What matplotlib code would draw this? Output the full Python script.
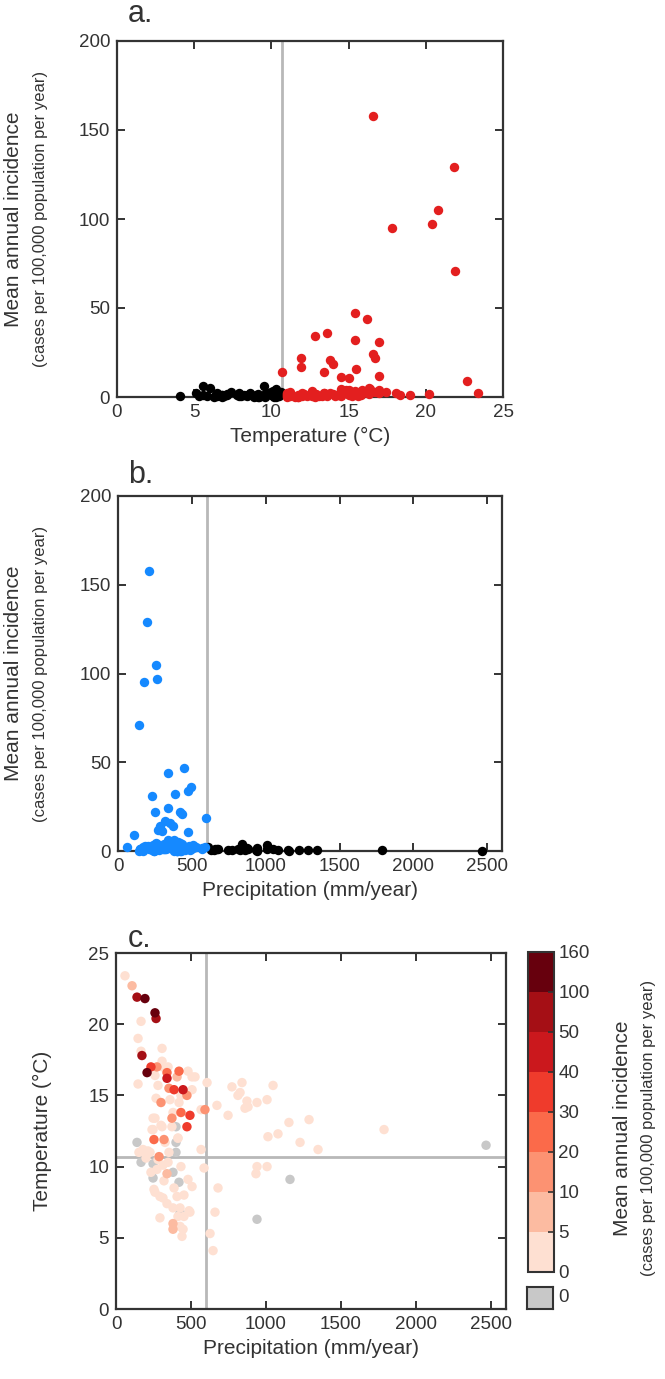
import numpy as np
import matplotlib
matplotlib.use("Agg")
import matplotlib.pyplot as plt
from matplotlib.colors import ListedColormap, BoundaryNorm
import matplotlib.colorbar as mcolorbar

plt.rcParams['font.family'] = ['Liberation Sans', 'DejaVu Sans']

# ---------------- data: (precipitation mm/yr, temperature C, incidence) ----------------
precip = [
    140, 193, 260, 267, 173, 207, 447, 340, 473, 493, 387, 233, 340, 420, 253, 433, 593, 320,
    353, 373, 287, 273, 473, 107, 300, 340, 380,
    60, 167, 147, 167, 307, 307, 313, 347, 260, 480, 507, 527, 407, 147, 280, 507, 607, 433,
    360, 420, 380, 567, 673, 747, 260, 307, 247, 413, 773, 840, 813, 827, 873, 860, 880, 940,
    1007, 1047, 1153, 1287, 1787, 1013, 1080, 1227, 1347, 940, 933, 1007, 567, 587, 680, 660,
    627, 647, 433, 480, 507, 153, 193, 227, 353, 313, 273, 347, 260, 293, 387, 407, 340, 380,
    427, 493, 413, 453, 293, 427, 447, 440, 253, 313, 487, 247, 300, 240, 373, 413, 180, 213,
    327, 200, 280, 233, 453, 380, 320, 267,
    400, 140, 400, 2467, 1160, 940, 420, 380, 167, 247, 247, 427, 400,
]
temp = [
    21.9, 21.8, 20.8, 20.4, 17.8, 16.6, 15.4, 16.2, 12.8, 13.6, 15.4, 17.0, 16.6, 16.7, 11.9, 13.8, 14.0, 11.9,
    15.5, 13.4, 10.7, 17.0, 15.0, 22.7, 14.5, 9.5, 5.6,
    23.4, 20.2, 19.0, 18.1, 18.3, 17.4, 17.0, 17.0, 16.4, 16.7, 16.3, 16.3, 16.3, 15.8, 15.7, 15.4, 15.9, 15.0,
    14.7, 14.5, 13.8, 14.0, 14.3, 13.6, 13.4, 12.8, 12.6, 12.0, 15.6, 15.9, 15.0, 15.2, 14.6, 14.1, 14.2, 14.5,
    14.7, 15.7, 13.1, 13.3, 12.6, 12.1, 12.3, 11.7, 11.2, 10.0, 9.5, 10.0, 11.2, 9.9, 8.5, 6.8,
    5.3, 4.1, 10.0, 9.1, 8.6, 11.0, 11.0, 11.0, 11.0, 10.1, 9.8, 10.3, 8.2, 7.9, 8.5, 7.9, 7.4, 7.1,
    7.1, 6.8, 6.5, 6.5, 6.4, 5.8, 5.6, 5.1, 8.4, 7.8, 6.9, 13.4, 12.9, 12.6, 12.8, 12.0, 11.2, 11.1,
    11.7, 10.6, 10.5, 9.6, 8.0, 6.0, 9.0, 14.8,
    12.8, 11.7, 11.7, 11.5, 9.1, 6.3, 8.9, 9.6, 10.3, 10.2, 9.2, 6.8, 11.0,
]
incidence = [
    71, 129, 105, 97, 95, 158, 47, 44, 34, 36, 32, 31, 24, 22, 22, 21, 18.5, 17,
    16, 14, 14, 12, 10.5, 9, 11, 6, 6,
    2, 1.5, 1, 2.5, 1, 3, 4, 2, 4.5, 3, 1.5, 2, 5, 1, 2.5, 3.5, 2, 4,
    3, 4.5, 2, 1.5, 1, 0.5, 2, 1.5, 3, 2, 0.8, 4, 1, 0.5, 1.5, 0.7, 1.2, 0.5,
    3.5, 1, 0.4, 0.6, 0.3, 1.8, 0.8, 0.5, 0.6, 1.5, 0.7, 0.9, 1.0, 2.0, 0.9, 1.2,
    0.4, 0.5, 3, 1.5, 2, 1, 2, 0.8, 1.5, 3.5, 2, 4.5, 1, 2, 1.2, 0.6, 3, 1.8,
    0.9, 1.4, 0.8, 2.2, 1.5, 0.7, 1, 2, 0.5, 1.1, 0.6, 2.5, 1.8, 3.5, 1.2, 0.8, 2.8, 1.3,
    0.9, 2.6, 0.5, 1.6, 0.4, 5.2, 0.9, 4.2,
    0, 0, 0, 0, 0, 0, 0, 0, 0, 0, 0, 0, 0,
]

temp_threshold = 10.7
precip_threshold = 600

inc_bounds = [0, 5, 10, 20, 30, 40, 50, 100, 160]
inc_colors = ['#fee0d2', '#fcbba1', '#fc9272', '#fb6a4a', '#ef3b2c', '#cb181d', '#a50f15', '#67000d']
zero_color = '#c8c8c8'

P = np.array(precip, float)
T = np.array(temp, float)
I = np.array(incidence, float)

# ---------------- figure ----------------
W, H = 665, 1379
fig = plt.figure(figsize=(W / 100, H / 100), dpi=100)

def ax_rect(l, t, r, b):
    return [l / W, 1 - b / H, (r - l) / W, (b - t) / H]

TXT = '#333333'
SP = '#333333'

def style(ax):
    for s in ax.spines.values():
        s.set_color(SP)
        s.set_linewidth(1.6)
    ax.tick_params(direction='in', length=6, width=1.4, color=SP, top=True, right=True,
                   labelsize=13.5, labelcolor=TXT, pad=5)

def ylabel2(ax_top, ax_bot, x1, x2, l1, l2):
    yc = 1 - ((ax_top + ax_bot) / 2) / H
    fig.text(x1 / W, yc, l1, rotation=90, ha='center', va='center', fontsize=15, color=TXT)
    fig.text(x2 / W, yc, l2, rotation=90, ha='center', va='center', fontsize=12, color=TXT)

red = '#e31f1f'
blue = '#1589ff'
MS = 46

# ---- panel a ----
axa = fig.add_axes(ax_rect(117, 41, 503, 397))
style(axa)
axa.axvline(temp_threshold, color='#b8b8b8', lw=2, zorder=1)
mask = T < temp_threshold
axa.scatter(T[mask], I[mask], s=MS, color='black', lw=0, zorder=3, clip_on=False)
axa.scatter(T[~mask], I[~mask], s=MS, color=red, lw=0, zorder=3, clip_on=False)
axa.set_xlim(0, 25)
axa.set_ylim(0, 200)
axa.set_xticks([0, 5, 10, 15, 20, 25])
axa.set_yticks([0, 50, 100, 150, 200])
axa.set_xlabel('Temperature (°C)', fontsize=15, color=TXT, labelpad=4)
ylabel2(41, 397, 14, 41, 'Mean annual incidence', '(cases per 100,000 population per year)')
fig.text(128 / W, 1 - 22 / H, 'a.', fontsize=22, color=TXT, ha='left', va='baseline')

# ---- panel b ----
axb = fig.add_axes(ax_rect(118, 496, 502, 851))
style(axb)
axb.axvline(precip_threshold, color='#b8b8b8', lw=2, zorder=1)
mask = P < precip_threshold
axb.scatter(P[~mask], I[~mask], s=MS, color='black', lw=0, zorder=3, clip_on=False)
axb.scatter(P[mask], I[mask], s=MS, color=blue, lw=0, zorder=3, clip_on=False)
axb.set_xlim(0, 2600)
axb.set_ylim(0, 200)
axb.set_xticks([0, 500, 1000, 1500, 2000, 2500])
axb.set_yticks([0, 50, 100, 150, 200])
axb.set_xlabel('Precipitation (mm/year)', fontsize=15, color=TXT, labelpad=4)
ylabel2(496, 851, 14, 41, 'Mean annual incidence', '(cases per 100,000 population per year)')
fig.text(128 / W, 1 - 483 / H, 'b.', fontsize=22, color=TXT, ha='left', va='baseline')

# ---- panel c ----
cmap = ListedColormap(inc_colors)
norm = BoundaryNorm(inc_bounds, cmap.N)
axc = fig.add_axes(ax_rect(116, 953, 506, 1309))
style(axc)
axc.axvline(precip_threshold, color='#b8b8b8', lw=2, zorder=1)
axc.axhline(temp_threshold, color='#b8b8b8', lw=2, zorder=1)
order = np.argsort(I, kind='stable')
cols = [zero_color if I[k] == 0 else cmap(norm(I[k])) for k in order]
axc.scatter(P[order], T[order], s=MS, c=cols, lw=0, zorder=3)
axc.set_xlim(0, 2600)
axc.set_ylim(0, 25)
axc.set_xticks([0, 500, 1000, 1500, 2000, 2500])
axc.set_yticks([0, 5, 10, 15, 20, 25])
axc.set_xlabel('Precipitation (mm/year)', fontsize=15, color=TXT, labelpad=4)
fig.text(42 / W, 1 - 1131 / H, 'Temperature (°C)', rotation=90, ha='center', va='center',
         fontsize=15, color=TXT)
fig.text(128 / W, 1 - 947 / H, 'c.', fontsize=22, color=TXT, ha='left', va='baseline')

# ---- colorbar ----
cax = fig.add_axes(ax_rect(528, 952, 554, 1272))
cb = mcolorbar.ColorbarBase(cax, cmap=cmap, norm=norm, boundaries=inc_bounds,
                            spacing='uniform', ticks=inc_bounds, orientation='vertical')
cb.outline.set_linewidth(1.5)
cb.outline.set_edgecolor(SP)
cax.tick_params(direction='in', length=4, width=1.2, color=SP, labelsize=13.5,
                labelcolor=TXT, pad=3)
cb.set_ticklabels([str(b) for b in inc_bounds])

gax = fig.add_axes(ax_rect(527, 1287, 553, 1309))
gax.set_facecolor(zero_color)
gax.set_xticks([])
gax.set_yticks([])
for s in gax.spines.values():
    s.set_color(SP)
    s.set_linewidth(1.5)
fig.text(558 / W, 1 - 1298 / H, '0', fontsize=13.5, color=TXT, ha='left', va='center')

yc = 1 - 1128 / H
fig.text(622 / W, yc, 'Mean annual incidence', rotation=90, ha='center', va='center',
         fontsize=15, color=TXT)
fig.text(648 / W, yc, '(cases per 100,000 population per year)', rotation=90,
         ha='center', va='center', fontsize=12, color=TXT)

fig.savefig('out.png', dpi=100)
